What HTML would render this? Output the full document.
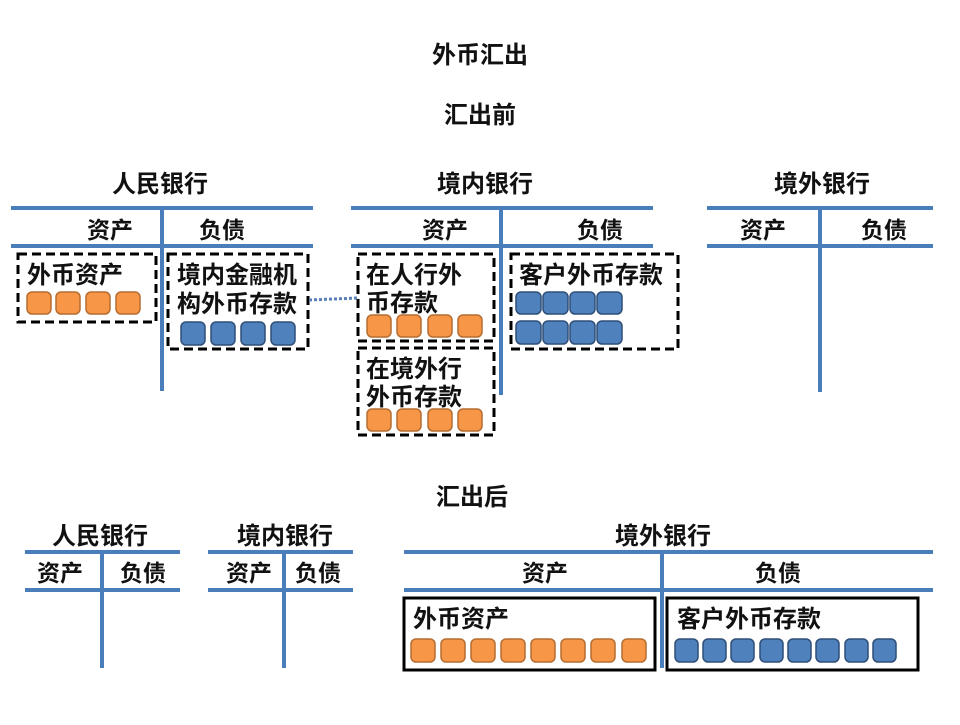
<!DOCTYPE html>
<html><head><meta charset="utf-8"><style>
body{margin:0;background:#fff}
svg text{font-family:"Liberation Sans","Noto Sans CJK SC",sans-serif;font-weight:bold;fill:#111}
.o{fill:#f79646;stroke:#b66d31;stroke-width:1.5}
.b{fill:#4f81bd;stroke:#2f4f78;stroke-width:1.5}
.l{stroke:#4a7ebb;stroke-width:4}
.d{fill:none;stroke:#000;stroke-width:3;stroke-dasharray:9,5}
.s{fill:none;stroke:#000;stroke-width:3}
</style></head><body>
<svg width="960" height="720" viewBox="0 0 960 720">
<text x="480" y="63" font-size="24" text-anchor="middle">外币汇出</text>
<text x="480" y="123" font-size="24" text-anchor="middle">汇出前</text>

<text x="160" y="192" font-size="24" text-anchor="middle">人民银行</text>
<line class="l" x1="11" y1="208" x2="313" y2="208"/><line class="l" x1="11" y1="246" x2="313" y2="246"/>
<line class="l" x1="162" y1="206" x2="162" y2="391"/>
<text x="110" y="238" font-size="23" text-anchor="middle">资产</text>
<text x="222" y="238" font-size="23" text-anchor="middle">负债</text>
<rect class="d" x="18" y="254" width="138" height="68"/>
<text x="27" y="283" font-size="24">外币资产</text>
<rect class="o" x="27" y="292" width="24" height="22" rx="5"/><rect class="o" x="56" y="292" width="24" height="22" rx="5"/><rect class="o" x="86" y="292" width="24" height="22" rx="5"/><rect class="o" x="116" y="292" width="24" height="22" rx="5"/>
<rect class="d" x="168" y="254" width="140" height="95"/>
<text x="177" y="283" font-size="24">境内金融机</text>
<text x="177" y="312" font-size="24">构外币存款</text>
<rect class="b" x="181" y="322" width="24" height="23" rx="5"/><rect class="b" x="211" y="322" width="24" height="23" rx="5"/><rect class="b" x="241" y="322" width="24" height="23" rx="5"/><rect class="b" x="271" y="322" width="24" height="23" rx="5"/>
<line x1="309" y1="300" x2="358" y2="298" stroke="#5a7fb8" stroke-width="3" stroke-dasharray="3,2"/>

<text x="485" y="192" font-size="24" text-anchor="middle">境内银行</text>
<line class="l" x1="351" y1="208" x2="653" y2="208"/><line class="l" x1="351" y1="246" x2="653" y2="246"/>
<line class="l" x1="501" y1="206" x2="501" y2="395"/>
<text x="445" y="238" font-size="23" text-anchor="middle">资产</text>
<text x="600" y="238" font-size="23" text-anchor="middle">负债</text>
<rect class="d" x="358" y="254" width="136" height="87"/>
<text x="366" y="283" font-size="24">在人行外</text>
<text x="366" y="311" font-size="24">币存款</text>
<rect class="o" x="367" y="315" width="24" height="22" rx="5"/><rect class="o" x="397" y="315" width="24" height="22" rx="5"/><rect class="o" x="428" y="315" width="24" height="22" rx="5"/><rect class="o" x="458" y="315" width="24" height="22" rx="5"/>
<rect class="d" x="358" y="348" width="136" height="87"/>
<text x="366" y="377" font-size="24">在境外行</text>
<text x="366" y="405" font-size="24">外币存款</text>
<rect class="o" x="367" y="409" width="24" height="22" rx="5"/><rect class="o" x="397" y="409" width="24" height="22" rx="5"/><rect class="o" x="428" y="409" width="24" height="22" rx="5"/><rect class="o" x="458" y="409" width="24" height="22" rx="5"/>
<rect class="d" x="511" y="254" width="167" height="95"/>
<text x="519" y="283" font-size="24">客户外币存款</text>
<rect class="b" x="516" y="292" width="25" height="22" rx="5"/><rect class="b" x="543" y="292" width="25" height="22" rx="5"/><rect class="b" x="570" y="292" width="25" height="22" rx="5"/><rect class="b" x="597" y="292" width="25" height="22" rx="5"/>
<rect class="b" x="516" y="321" width="25" height="23" rx="5"/><rect class="b" x="543" y="321" width="25" height="23" rx="5"/><rect class="b" x="570" y="321" width="25" height="23" rx="5"/><rect class="b" x="597" y="321" width="25" height="23" rx="5"/>

<text x="822" y="192" font-size="24" text-anchor="middle">境外银行</text>
<line class="l" x1="707" y1="208" x2="933" y2="208"/><line class="l" x1="707" y1="246" x2="933" y2="246"/>
<line class="l" x1="820" y1="206" x2="820" y2="392"/>
<text x="763" y="238" font-size="23" text-anchor="middle">资产</text>
<text x="884" y="238" font-size="23" text-anchor="middle">负债</text>

<text x="472" y="505" font-size="24" text-anchor="middle">汇出后</text>

<text x="100" y="544" font-size="24" text-anchor="middle">人民银行</text>
<line class="l" x1="25" y1="552" x2="180" y2="552"/><line class="l" x1="25" y1="590" x2="180" y2="590"/>
<line class="l" x1="102" y1="550" x2="102" y2="668"/>
<text x="60" y="581" font-size="23" text-anchor="middle">资产</text>
<text x="143" y="581" font-size="23" text-anchor="middle">负债</text>

<text x="285" y="544" font-size="24" text-anchor="middle">境内银行</text>
<line class="l" x1="208" y1="552" x2="353" y2="552"/><line class="l" x1="208" y1="590" x2="353" y2="590"/>
<line class="l" x1="284" y1="550" x2="284" y2="668"/>
<text x="249" y="581" font-size="23" text-anchor="middle">资产</text>
<text x="318" y="581" font-size="23" text-anchor="middle">负债</text>

<text x="663" y="544" font-size="24" text-anchor="middle">境外银行</text>
<line class="l" x1="404" y1="552" x2="933" y2="552"/><line class="l" x1="404" y1="590" x2="933" y2="590"/>
<line class="l" x1="662" y1="550" x2="662" y2="668"/>
<text x="545" y="581" font-size="23" text-anchor="middle">资产</text>
<text x="778" y="581" font-size="23" text-anchor="middle">负债</text>
<rect class="s" x="404" y="598" width="251" height="72"/>
<text x="413" y="627" font-size="24">外币资产</text>
<rect class="o" x="411" y="639" width="24" height="23" rx="5"/><rect class="o" x="441" y="639" width="24" height="23" rx="5"/><rect class="o" x="471" y="639" width="24" height="23" rx="5"/><rect class="o" x="501" y="639" width="24" height="23" rx="5"/><rect class="o" x="531" y="639" width="24" height="23" rx="5"/><rect class="o" x="561" y="639" width="24" height="23" rx="5"/><rect class="o" x="591" y="639" width="24" height="23" rx="5"/><rect class="o" x="622" y="639" width="24" height="23" rx="5"/>
<rect class="s" x="667" y="598" width="251" height="72"/>
<text x="677" y="627" font-size="24">客户外币存款</text>
<rect class="b" x="675" y="639" width="23" height="23" rx="5"/><rect class="b" x="703" y="639" width="23" height="23" rx="5"/><rect class="b" x="731" y="639" width="23" height="23" rx="5"/><rect class="b" x="760" y="639" width="23" height="23" rx="5"/><rect class="b" x="788" y="639" width="23" height="23" rx="5"/><rect class="b" x="816" y="639" width="23" height="23" rx="5"/><rect class="b" x="845" y="639" width="23" height="23" rx="5"/><rect class="b" x="873" y="639" width="23" height="23" rx="5"/>
</svg>
</body></html>
